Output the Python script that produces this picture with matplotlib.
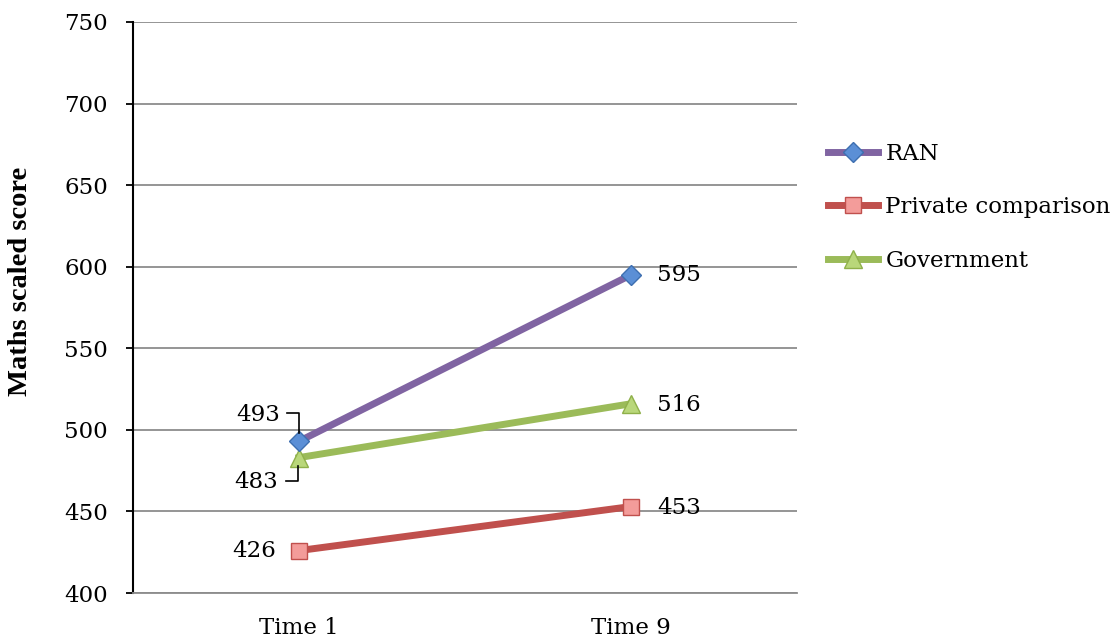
import matplotlib.pyplot as plt

plt.rcParams['font.family'] = ['DejaVu Serif', 'Liberation Serif']

times = ["Time 1", "Time 9"]
ran = [493, 595]
private = [426, 453]
government = [483, 516]

fig = plt.figure(figsize=(11.2, 6.4), dpi=100)
ax = fig.add_axes([133 / 1120, 1 - 593 / 640, 664 / 1120, 571 / 640])

x = range(len(times))
l1, = ax.plot(x, ran, color="#8064A2", lw=5, marker="D", ms=10,
              mfc="#5B8FD6", mec="#3E6FB0", mew=1, label="RAN", zorder=5)
l2, = ax.plot(x, private, color="#C0504D", lw=5, marker="s", ms=11,
              mfc="#F39C9A", mec="#C0504D", mew=1, label="Private comparison", zorder=4)
l3, = ax.plot(x, government, color="#9BBB59", lw=5, marker="^", ms=13,
              mfc="#B9D77A", mec="#8FB04A", mew=1, label="Government", zorder=4)

fs = 16.5
ax.set_xlim(-0.5, 1.5)
ax.set_ylim(400, 750)
ax.set_yticks(range(400, 751, 50))
ax.set_xticks(list(x))
ax.set_xticklabels(times)
ax.yaxis.grid(True, color="#8C8C8C", lw=1.3)
ax.set_axisbelow(True)
for s in ["top", "right"]:
    ax.spines[s].set_visible(False)
ax.spines["bottom"].set_color("#8C8C8C")
ax.spines["bottom"].set_linewidth(1.3)
ax.spines["left"].set_linewidth(1.5)
ax.tick_params(axis="y", length=5, width=1.3, labelsize=fs, pad=13)
ax.tick_params(axis="x", length=0, labelsize=fs, pad=17)
ax.set_ylabel("Maths scaled score", fontsize=20.5, fontweight="bold",
              family="Liberation Serif")
ax.yaxis.set_label_coords(-0.151, 0.545)

# end labels
ax.text(1.078, ran[1], str(ran[1]), fontsize=fs, va="center", ha="left")
ax.text(1.078, government[1] - 1, str(government[1]), fontsize=fs, va="center", ha="left")
ax.text(1.078, private[1] - 1, str(private[1]), fontsize=fs, va="center", ha="left")
ax.text(-0.069, private[0], str(private[0]), fontsize=fs, va="center", ha="right")

# leader-labelled start points
ax.text(-0.057, 509, str(ran[0]), fontsize=fs, va="center", ha="right")
ax.plot([-0.036, 0.0, 0.0], [510.3, 510.3, 498], color="black", lw=1.2, zorder=6)
ax.text(-0.062, 468, str(government[0]), fontsize=fs, va="center", ha="right")
ax.plot([-0.04, -0.003, -0.003], [468.6, 468.6, 477.8], color="black", lw=1.2, zorder=6)

fig.legend(handles=[l1, l2, l3], loc="upper left", bbox_to_anchor=(828 / 1120, 1 - 143 / 640),
           frameon=False, fontsize=fs, handlelength=2.2, handletextpad=0.3,
           labelspacing=1.37, borderpad=0, borderaxespad=0)

plt.savefig("out.png", dpi=100)
